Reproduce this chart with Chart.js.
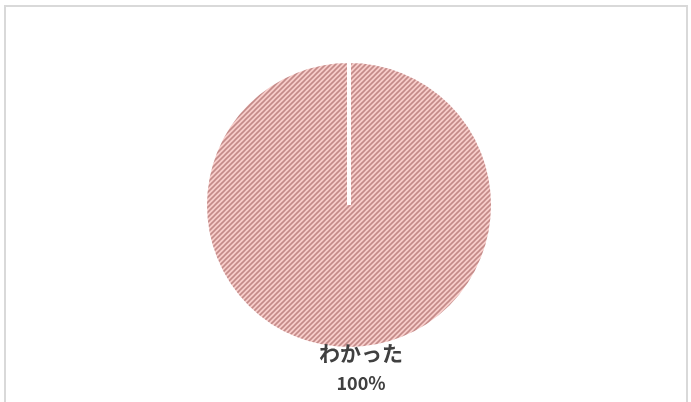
<!DOCTYPE html>
<html>
<head>
<meta charset="utf-8">
<script src="https://cdn.jsdelivr.net/npm/chart.js@4/dist/chart.umd.min.js"></script>
<style>
  html, body { margin: 0; padding: 0; background: #ffffff; }
  #wrap { position: relative; width: 691px; height: 402px; }
  #frame { position: absolute; left: 4px; top: 5px; width: 684px; height: 400px; border: 2px solid #d9d9d9; border-bottom: none; box-sizing: border-box; }
  canvas { position: absolute; left: 0; top: 0; }
</style>
</head>
<body>
<div id="wrap">
  <div id="frame"></div>
  <canvas id="c" width="691" height="402"></canvas>
</div>
<script>
const categories = ["わかった"];
const values = [100];
const percentLabels = ["100%"];

function makeHatch() {
  const p = 5;
  const t = document.createElement('canvas');
  t.width = p; t.height = p;
  const g = t.getContext('2d');
  g.fillStyle = '#f7cdca';
  g.fillRect(0, 0, p, p);
  g.strokeStyle = '#c38a88';
  g.lineWidth = 1.6;
  g.beginPath();
  g.moveTo(-1, p + 1); g.lineTo(p + 1, -1);
  g.moveTo(-1, 1); g.lineTo(1, -1);
  g.moveTo(p - 1, p + 1); g.lineTo(p + 1, p - 1);
  g.stroke();
  return document.getElementById('c').getContext('2d').createPattern(t, 'repeat');
}

const labelPlugin = {
  id: 'pieLabels',
  afterDatasetsDraw(chart) {
    const ctx = chart.ctx;
    const meta = chart.getDatasetMeta(0);
    meta.data.forEach((arc, i) => {
      const x = arc.x + 12;
      const yBase = arc.y + arc.outerRadius;
      ctx.save();
      ctx.fillStyle = '#404040';
      ctx.textAlign = 'center';
      ctx.textBaseline = 'middle';
      ctx.font = 'bold 21px "Noto Sans CJK JP"';
      ctx.fillText(categories[i], x, yBase + 4);
      ctx.font = 'bold 18px "Noto Sans CJK JP"';
      ctx.fillText(percentLabels[i], x, yBase + 34);
      ctx.restore();
    });
  }
};

new Chart(document.getElementById('c'), {
  type: 'pie',
  data: {
    labels: categories,
    datasets: [{
      data: values,
      backgroundColor: [makeHatch()],
      borderColor: '#ffffff',
      borderWidth: 4
    }]
  },
  options: {
    responsive: false,
    animation: false,
    events: [],
    layout: { padding: { top: 59, bottom: 51, left: 201, right: 194 } },
    plugins: {
      legend: { display: false },
      tooltip: { enabled: false }
    }
  },
  plugins: [labelPlugin]
});
</script>
</body>
</html>
